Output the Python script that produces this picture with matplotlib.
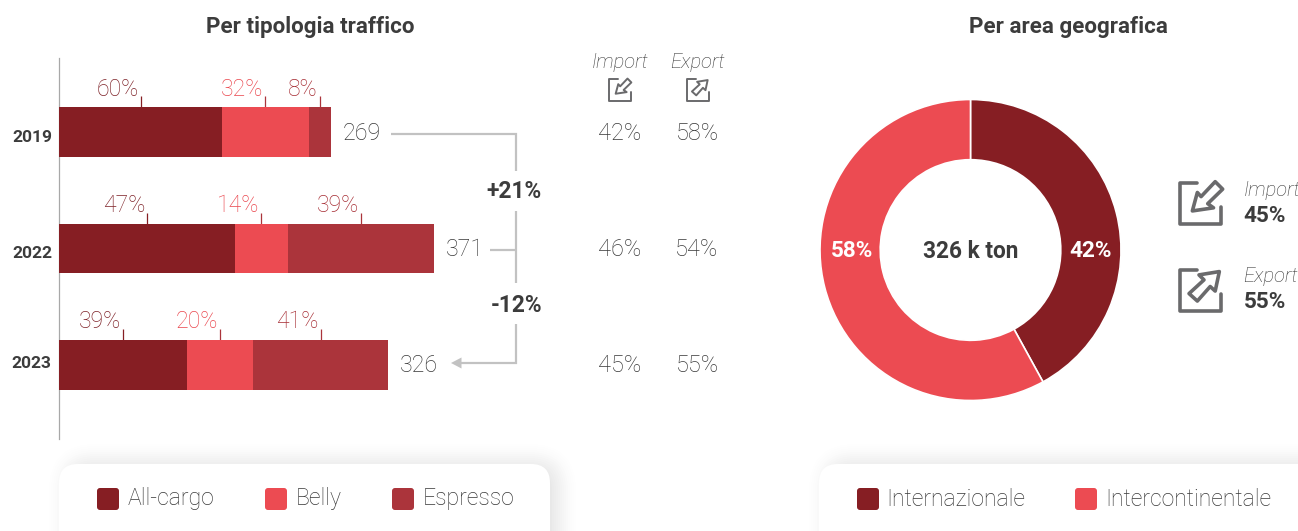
import matplotlib
matplotlib.use("Agg")
import matplotlib.pyplot as plt
from matplotlib.patches import FancyBboxPatch, Polygon, PathPatch
from matplotlib.path import Path

# Data
years = ["2019", "2022", "2023"]
totals = [269, 371, 326]
segments = ["All-cargo", "Belly", "Espresso"]
allcargo_share = [60, 47, 39]
belly_share = [32, 14, 20]
espresso_share = [8, 39, 41]
import_share = [42, 46, 45]
export_share = [58, 54, 55]
change_labels = ["+21%", "-12%"]
area_names = ["Internazionale", "Intercontinentale"]
area_share = [42, 58]
area_total = "326 k ton"
area_import = 45
area_export = 55

DARK = "#861E23"
RED = "#EC4B52"
MID = "#AB343B"
TEXT = "#3C3C3C"
SOFT = "#383838"
LINE = "#C2C2C2"
ICON = "#6A6A6C"
W, H = 1298, 531
plt.rcParams["font.family"] = ["Roboto", "DejaVu Sans"]


def pt(px):
    return px * 0.72


fig = plt.figure(figsize=(W / 100, H / 100), dpi=100, facecolor="white")

# Full-figure layer addressed in pixels for cards, connectors and icons
ov = fig.add_axes([0, 0, 1, 1], zorder=1)
ov.set_xlim(0, W)
ov.set_ylim(H, 0)
ov.axis("off")


def card(x0, x1, y0=464, y1=560):
    """White rounded card with a soft shadow falling to the lower right."""
    for grow, alpha in zip(range(26, 0, -2), [0.004, 0.004, 0.005, 0.005, 0.006, 0.006, 0.007,
                                              0.007, 0.008, 0.008, 0.009, 0.009, 0.01]):
        ov.add_patch(FancyBboxPatch((x0 + 16 - grow, y0 + 6 - grow), x1 - x0 + 2 * grow - 16, y1 - y0 + 2 * grow,
                                    boxstyle=f"round,pad=0,rounding_size={20 + grow}",
                                    fc="black", ec="none", alpha=alpha, zorder=1))
    ov.add_patch(FancyBboxPatch((x0, y0), x1 - x0, y1 - y0, boxstyle="round,pad=0,rounding_size=19",
                                fc="white", ec="none", zorder=2))


def legend_entry(x, label, color, text_x):
    ov.add_patch(FancyBboxPatch((x + 2, 490), 18, 18, boxstyle="round,pad=2,rounding_size=3",
                                fc=color, ec="none", zorder=3))
    ov.text(text_x, 499, label, fontsize=pt(23), weight="light", color=SOFT,
            va="center", ha="left", zorder=3)


card(59, 550)
card(819, 1340)
for x, tx, lab, col in zip([97, 265, 392], [128, 296, 423], segments, [DARK, RED, MID]):
    legend_entry(x, lab, col, tx)
for x, tx, lab, col in zip([857, 1075], [886.5, 1105.5], area_names, [DARK, RED]):
    legend_entry(x, lab, col, tx)

# Titles
ov.text(310.5, 26.5, "Per tipologia traffico", fontsize=pt(22.4), weight="bold", color=TEXT, ha="center", va="center")
ov.text(1068, 26.5, "Per area geografica", fontsize=pt(22.4), weight="bold", color=TEXT, ha="center", va="center")

# Stacked bars: pixel span of this axes fixes the value scale
PX_PER_UNIT = 1.01
bar_left, bar_width, bar_top, bar_bottom = 59, 420, 58, 439
ax = fig.add_axes([bar_left / W, 1 - bar_bottom / H, bar_width / W, (bar_bottom - bar_top) / H], zorder=2)
ax.patch.set_alpha(0)
ax.set_xlim(0, bar_width / PX_PER_UNIT)
ax.set_ylim(2.635, -0.635)
for s in ("top", "right", "bottom"):
    ax.spines[s].set_visible(False)
ax.spines["left"].set_color("#A8A8A8")
ax.spines["left"].set_linewidth(0.9)
ax.set_xticks([])
ax.set_yticks([])

label_cols = ["#7E2228", "#EA464D", "#A62C33"]
tick_cols = [DARK, MID, MID]
rows = list(zip(allcargo_share, belly_share, espresso_share))
year_y = [138, 253, 364]
year_x = [52, 52, 51]
for i, (year, total, shares) in enumerate(zip(years, totals, rows)):
    start = 0.0
    for share, col, lc, tc in zip(shares, [DARK, RED, MID], label_cols, tick_cols):
        width = total * share / 100
        ax.barh(i, width, left=start, height=0.425, color=col, linewidth=0, zorder=3)
        mid = start + width / 2
        tx = bar_left + mid * PX_PER_UNIT
        top = [107, 224, 340][i]
        ov.plot([tx, tx], [top - 11.5, top], color=tc, lw=0.9, solid_capstyle="butt", zorder=3)
        ov.text(tx - 2, top - 11.5, f"{share}%", fontsize=pt(23), weight="light", color=lc,
                ha="right", va="baseline", zorder=3)
        start += width
    end_px = bar_left + total * PX_PER_UNIT
    ov.text(end_px + 12, [133, 249, 365][i], str(total), fontsize=pt(23.2), weight="light",
            color=SOFT, ha="left", va="center", zorder=3)
    ov.text(year_x[i], year_y[i], year, fontsize=pt(17.4), weight="bold", color=TEXT, ha="right", va="center", zorder=3)
    ov.text(619.5, [133, 249, 365][i], f"{import_share[i]}%", fontsize=pt(23.5), weight="light",
            color=SOFT, ha="center", va="center", zorder=3)
    ov.text(697, [133, 249, 365][i], f"{export_share[i]}%", fontsize=pt(23.5), weight="light",
            color=SOFT, ha="center", va="center", zorder=3)

# Connectors between the yearly totals
conn = dict(color=LINE, lw=1.6, solid_capstyle="butt", solid_joinstyle="miter", zorder=3)
ov.plot([391, 516, 516], [134, 134, 171], **conn)
ov.plot([516, 516], [211, 283], **conn)
ov.plot([490, 516], [250, 250], **conn)
ov.plot([516, 516, 460], [324, 362.5, 362.5], **conn)
ov.add_patch(Polygon([(451, 363), (461.5, 357.5), (461.5, 368.5)], fc=LINE, ec="none", zorder=3))
ov.text(514, 191, change_labels[0], fontsize=pt(22.7), weight="bold", color=TEXT, ha="center", va="center", zorder=3)
ov.text(517, 306, change_labels[1], fontsize=pt(22.7), weight="bold", color=TEXT, ha="center", va="center", zorder=3)

# Import / export pictograms in box-relative coordinates
IMPORT_ARROW = [(.31, .685), (.43, .24), (.52, .34), (.86, -.02), (1.04, .16), (.68, .51), (.82, .61)]
EXPORT_ARROW = [(.96, .05), (.86, .52), (.74, .41), (.43, .76), (.23, .58), (.59, .25), (.47, .13)]


def icon(x0, y0, size, arrow, lw):
    pts = [(.41, 0), (0, 0), (0, 1), (1, 1), (1, .6)]
    verts = [(x0 + a * size, y0 + b * size) for a, b in pts]
    ov.add_patch(PathPatch(Path(verts), fc="none", ec=ICON, lw=lw, capstyle="round", joinstyle="round", zorder=3))
    ov.add_patch(Polygon([(x0 + a * size, y0 + b * size) for a, b in arrow], closed=True, fc="none",
                         ec=ICON, lw=lw, joinstyle="round", zorder=3))


icon(609, 79, 21.5, IMPORT_ARROW, 1.4)
icon(687, 79, 21.5, EXPORT_ARROW, 1.4)
icon(1179.5, 182.5, 41.5, IMPORT_ARROW, 2.6)
icon(1179.5, 269.5, 41.5, EXPORT_ARROW, 2.6)

ov.text(620, 63, "Import", fontsize=pt(20.2), style="italic", weight="light", color=SOFT, ha="center", va="center")
ov.text(697, 63, "Export", fontsize=pt(20.2), style="italic", weight="light", color=SOFT, ha="center", va="center")
ov.text(1243.5, 191, "Import", fontsize=pt(20.2), style="italic", weight="light", color=SOFT, ha="left", va="center")
ov.text(1243.5, 216, f"{area_import}%", fontsize=pt(22.5), weight="bold", color=TEXT, ha="left", va="center")
ov.text(1243.5, 277, "Export", fontsize=pt(20.2), style="italic", weight="light", color=SOFT, ha="left", va="center")
ov.text(1243.5, 302, f"{area_export}%", fontsize=pt(22.5), weight="bold", color=TEXT, ha="left", va="center")

# Donut by geographic area
cx, cy, r = 970.5, 250, 150.5
dn = fig.add_axes([(cx - r) / W, 1 - (cy + r) / H, 2 * r / W, 2 * r / H], zorder=2)
dn.pie(area_share, colors=[DARK, RED], startangle=90, counterclock=False, radius=1,
       wedgeprops=dict(width=0.4, edgecolor="white", linewidth=1.2))
dn.set_xlim(-1, 1)
dn.set_ylim(-1, 1)
ov.text(970.5, 251, area_total, fontsize=pt(22.6), weight="bold", color=TEXT, ha="center", va="center", zorder=4)
dn.text(0.795, -0.005, f"{area_share[0]}%", fontsize=pt(22.5), weight="bold", color="white", ha="center", va="center")
dn.text(-0.79, -0.005, f"{area_share[1]}%", fontsize=pt(22.5), weight="bold", color="white", ha="center", va="center")

fig.savefig("out.png", dpi=100, facecolor="white")
